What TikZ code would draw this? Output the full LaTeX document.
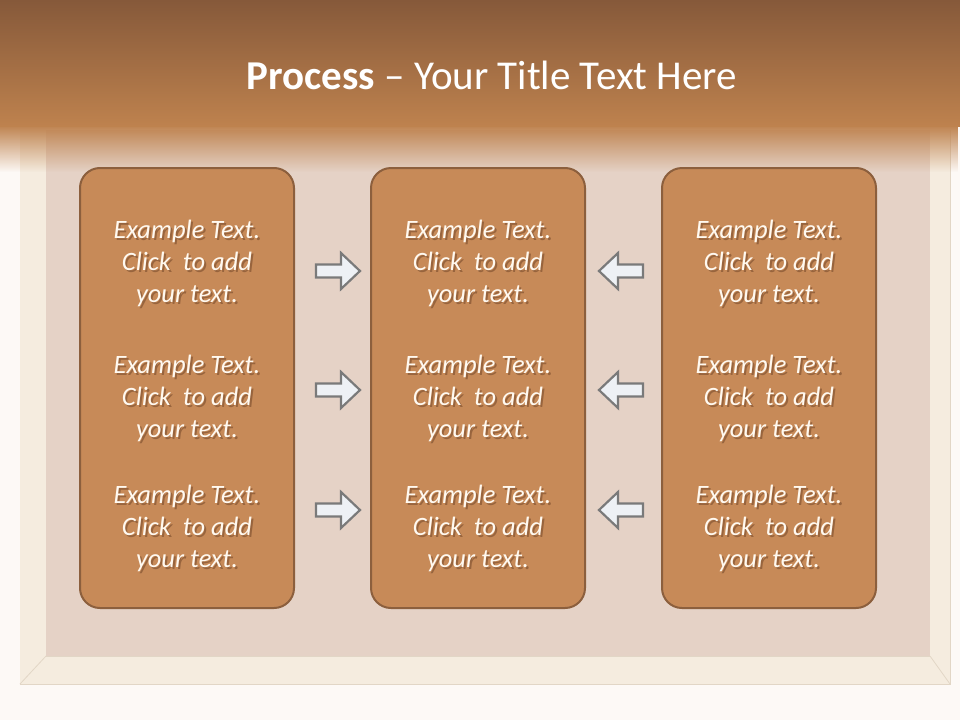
\documentclass[tikz,border=0pt]{standalone}
\usepackage{fontspec}
\setmainfont{Carlito}
\usetikzlibrary{fadings}
\definecolor{bandtop}{HTML}{86593A}
\definecolor{bandbot}{HTML}{BE824E}
\definecolor{pagebg}{HTML}{FDF9F6}
\definecolor{wood}{HTML}{F5ECDF}
\definecolor{woodedge}{HTML}{E2D6C6}
\definecolor{cork}{HTML}{E5D2C6}
\definecolor{boxfill}{HTML}{C78A58}
\definecolor{boxline}{HTML}{8C5F3D}
\definecolor{txt}{HTML}{FFF9F0}
\definecolor{shadowc}{HTML}{6A4024}
\definecolor{arrfill}{HTML}{EEF1F5}
\definecolor{arrline}{HTML}{7A7A7A}
\tikzset{
  card/.style={draw=boxline, line width=2pt, fill=boxfill, rounded corners=20pt,
    minimum width=214pt, minimum height=440pt, inner sep=0pt},
  cardtext/.style={font=\fontsize{26.5}{32}\selectfont\itshape, align=center, text=txt, inner sep=0pt},
  cardshadow/.style={font=\fontsize{26.5}{32}\selectfont\itshape, align=center, text=shadowc, opacity=0.5, inner sep=0pt},
  arrowshape/.style={draw=arrline, line width=2.2pt, fill=arrfill, line join=miter},
}
\newcommand{\cardlines}{Example Text.\\Click\ \ to add\\your text.}
\begin{document}
\begin{tikzpicture}[x=1pt,y=-1pt]
\useasboundingbox (0,0) rectangle (960,720);
% page
\fill[pagebg] (0,0) rectangle (960,720);
% frame and cork
\fill[wood] (20,130) rectangle (950,684);
\draw[woodedge, line width=1pt] (20,684) -- (950,684) -- (950,130);
\draw[woodedge, line width=0.8pt] (20,684) -- (46,656) (950,684) -- (930,656);
\fill[cork] (46,130) rectangle (930,656);
\draw[woodedge, line width=1pt] (46,656) -- (930,656);
% top band
\shade[top color=bandtop, bottom color=bandbot] (0,0) rectangle (960,126);
\fill[bandbot, path fading=south] (0,125) rectangle (960,172);
% title
\node[text=white, font=\fontsize{41}{48}\selectfont] (title) at (492,75) {\textbf{Process} – Your Title Text Here};
% cards
\node[card] (c1) at (187,388) {};
\node[card] (c2) at (478,388) {};
\node[card] (c3) at (769,388) {};
\foreach \c/\x in {1/187,2/478,3/769}{
  \foreach \r/\y in {1/263,2/398,3/528}{
    \node[cardshadow] at (\x+2,\y+2.5) {\cardlines};
    \node[cardtext] (t\c\r) at (\x,\y) {\cardlines};
  }
}
% arrows right
\foreach \r/\y in {1/271,2/390,3/510}{
  \draw[arrowshape] (316,\y-6.5) coordinate (ar\r) -- (341,\y-6.5) -- (341,\y-18) -- (360,\y) -- (341,\y+18) -- (341,\y+6.5) -- (316,\y+6.5) -- cycle;
}
% arrows left
\foreach \r/\y in {1/271,2/390,3/510}{
  \draw[arrowshape] (643,\y-6.5) coordinate (al\r) -- (618,\y-6.5) -- (618,\y-18) -- (599,\y) -- (618,\y+18) -- (618,\y+6.5) -- (643,\y+6.5) -- cycle;
}
\end{tikzpicture}
\end{document}
